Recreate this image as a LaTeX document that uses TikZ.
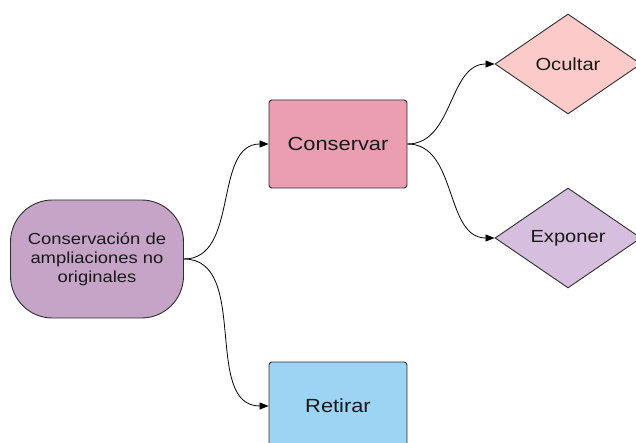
\documentclass[tikz,border=0pt]{standalone}
\usepackage{fontspec}
\setmainfont{Liberation Sans}[FakeStretch=1.15]
\usetikzlibrary{shapes.geometric,arrows.meta}
\definecolor{rootfill}{HTML}{C6A4C7}
\definecolor{keepfill}{HTML}{EB9DB2}
\definecolor{hidefill}{HTML}{FDCACA}
\definecolor{showfill}{HTML}{D6BEDF}
\definecolor{dropfill}{HTML}{9DD3F3}
\definecolor{edge}{HTML}{2E2E2E}
\tikzset{
  base/.style={draw=edge, line width=0.9pt, text=black!90, align=center},
  rootbox/.style={base, fill=rootfill, rounded corners=42pt,
    minimum width=173pt, minimum height=118pt,
    font=\fontsize{16}{19}\selectfont},
  actionbox/.style={base, rounded corners=3pt,
    minimum width=138pt, minimum height=88pt,
    font=\fontsize{19}{22}\selectfont},
  choice/.style={base, diamond, inner sep=0pt, aspect=1.5,
    minimum width=146pt, minimum height=100pt,
    font=\fontsize{17.5}{20}\selectfont},
  link/.style={draw=black, line width=0.8pt,
    -{Triangle[length=9pt,width=7pt]}, out=0, in=180}
}
\begin{document}
\begin{tikzpicture}[x=1pt,y=-1pt]
  \useasboundingbox (0,0) rectangle (636,443);
  \clip (0,0) rectangle (636,443);
  \node[rootbox, fill=rootfill] (root) at (97,259)
    {Conservación de\\ampliaciones no\\originales};
  \node[actionbox, fill=keepfill] (keep) at (338,144) {Conservar};
  \node[actionbox, fill=dropfill] (drop) at (338,406) {Retirar};
  \node[choice, fill=hidefill] (hide) at (568,64) {Ocultar};
  \node[choice, fill=showfill] (show) at (568,238) {Exponer};
  \draw[link] (root.east) to (keep.west);
  \draw[link] (root.east) to (drop.west);
  \draw[link] (keep.east) to (hide.west);
  \draw[link] (keep.east) to (show.west);
\end{tikzpicture}
\end{document}
